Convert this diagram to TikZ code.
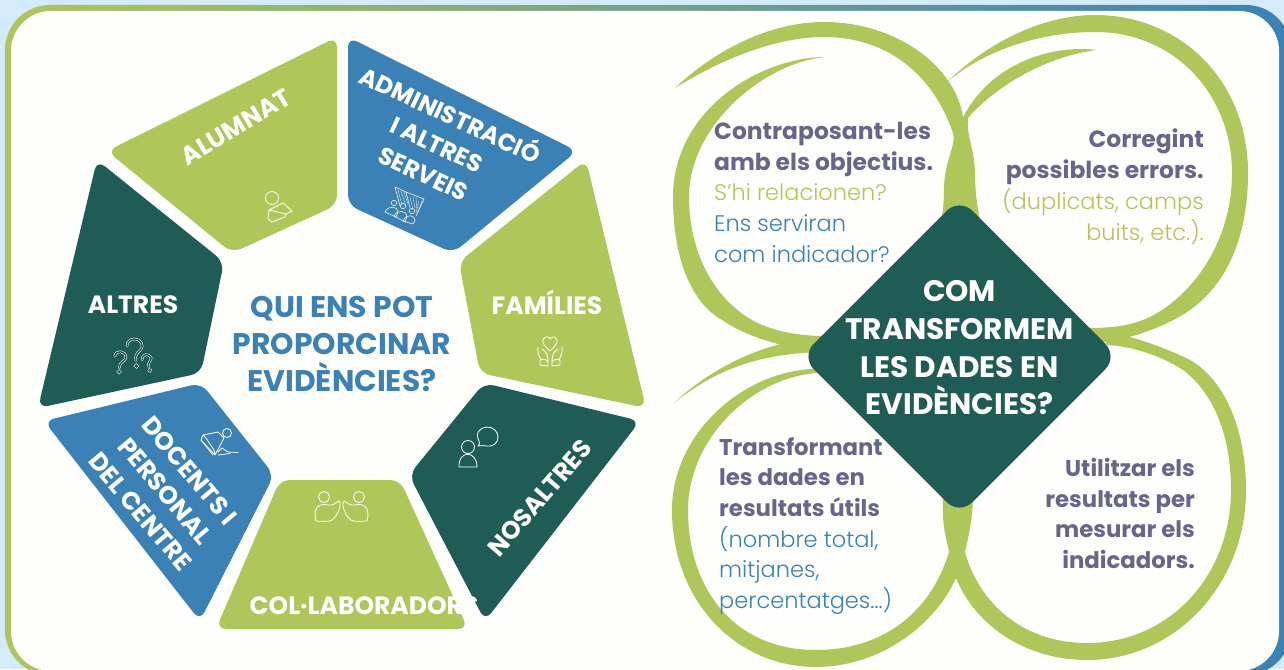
\documentclass[tikz,border=0pt]{standalone}
\usepackage{fontspec}
\setmainfont{Poppins}[BoldFont={Poppins Bold},ItalicFont={Poppins Light}]
\newcommand{\lt}{\itshape}
\newcommand{\bd}{\bfseries\fontsize{23.4}{30.7}\selectfont}
\newcommand{\bdb}{\bfseries\fontsize{22.8}{30.7}\selectfont}
\definecolor{lime}{HTML}{AEC65A}
\definecolor{deep}{HTML}{205C56}
\definecolor{sky}{HTML}{3B81B5}
\definecolor{plum}{HTML}{66658C}
\definecolor{paper}{HTML}{FEFEFC}
\definecolor{pale}{HTML}{D4EBFC}
\tikzset{
  x=1pt,y=-1pt,
  seg/.style={rounded corners=10pt},
  lbl/.style={text=white,font=\bfseries\fontsize{25}{32}\selectfont,align=center,inner sep=0pt},
  hd/.style={align=center,inner sep=0pt},
  txt/.style={inner sep=0pt,font=\fontsize{22.5}{30.7}\selectfont},
  ico/.style={draw=white,line width=.8pt,line join=round,line cap=round},
  qm/.style={draw=white,line width=.5pt,double=deep,double distance=1.5pt,line cap=round},
}
\newcommand{\qmark}{%
  \draw[qm] (-5,-6) .. controls (-5,-13) and (7,-13) .. (7,-5) .. controls (7,-1) and (0,-1) .. (1,6);
  \draw[qm] (1,10.5) circle (.9);}
\begin{document}
\begin{tikzpicture}
\useasboundingbox (0,0) rectangle (1284,669);
\clip (0,0) rectangle (1284,669);
\fill[pale] (0,0) rectangle (1284,669);
\shade[left color=lime,right color=sky,rounded corners=45pt] (5,5) rectangle (1291,675);
\fill[paper,rounded corners=40pt] (11,11) rectangle (1279,671);
% wheel segments
\fill[lime,seg] (337,37) -- (337,205) -- (232,253) -- (107,151) -- cycle;
\fill[sky,seg] (348,37) -- (577,151) -- (453,253) -- (348,205) -- cycle;
\fill[lime,seg] (586,160) -- (646,408) -- (480,373) -- (459,262) -- cycle;
\fill[deep,seg] (97,160) -- (224,262) -- (201,373) -- (38,408) -- cycle;
\fill[sky,seg] (201,383) -- (274,475) -- (200,621) -- (44,421) -- cycle;
\fill[lime,seg] (280,480) -- (400,480) -- (468,629) -- (216,629) -- cycle;
\fill[deep,seg] (484,383) -- (640,421) -- (485,621) -- (409,475) -- cycle;
% loops
\fill[lime] (826,57) .. controls (760,57) and (673,110) .. (673,197)
  .. controls (673,265) and (695,305) .. (722,320)
  .. controls (745,336) and (790,352) .. (840,352)
  .. controls (920,352) and (968,280) .. (968,190)
  .. controls (968,160) and (968,135) .. (963,117)
  .. controls (955,65) and (895,22) .. (824,22)
  .. controls (770,22) and (715,50) .. (675,88)
  .. controls (720,60) and (775,37) .. (824,37)
  .. controls (885,37) and (932,72) .. (953,133)
  .. controls (957,145) and (944,160) .. (944,190)
  .. controls (944,270) and (890,336) .. (825,336)
  .. controls (795,336) and (770,330) .. (752,320)
  .. controls (712,297) and (689,250) .. (689,197)
  .. controls (689,125) and (765,62) .. (826,57) -- cycle;
\fill[lime] (1097,50) .. controls (1030,42) and (950,85) .. (950,175)
  .. controls (950,280) and (1010,342) .. (1100,342)
  .. controls (1120,342) and (1165,328) .. (1190,310)
  .. controls (1225,285) and (1248,240) .. (1248,173)
  .. controls (1248,80) and (1180,15) .. (1095,15)
  .. controls (1040,15) and (985,45) .. (947,82)
  .. controls (985,50) and (1040,32) .. (1095,32)
  .. controls (1175,32) and (1232,95) .. (1232,173)
  .. controls (1232,235) and (1200,285) .. (1162,310)
  .. controls (1140,325) and (1115,328) .. (1090,328)
  .. controls (1030,328) and (975,260) .. (975,175)
  .. controls (975,150) and (966,135) .. (968,118)
  .. controls (990,92) and (1040,57) .. (1097,50) -- cycle;
\fill[lime] (825,369) .. controls (750,365) and (672,430) .. (672,510)
  .. controls (672,600) and (735,667) .. (816,667)
  .. controls (880,667) and (935,625) .. (956,578)
  .. controls (962,555) and (973,530) .. (973,490)
  -- (960,400) -- (830,338)
  .. controls (790,336) and (725,355) .. (674,403)
  .. controls (715,370) and (760,352) .. (830,352)
  -- (900,400) -- (945,470)
  .. controls (942,490) and (943,510) .. (943,513)
  .. controls (943,530) and (948,545) .. (949,552)
  .. controls (930,615) and (880,650) .. (816,650)
  .. controls (735,650) and (688,590) .. (688,510)
  .. controls (688,440) and (750,378) .. (817,373) -- cycle;
\fill[lime] (1100,332) .. controls (1120,332) and (1160,345) .. (1190,360)
  .. controls (1225,380) and (1246,430) .. (1246,490)
  .. controls (1246,585) and (1175,660) .. (1087,660)
  .. controls (1025,660) and (975,625) .. (956,578)
  .. controls (950,560) and (945,530) .. (945,490)
  -- (960,400) -- (1000,400) -- (973,490)
  .. controls (973,515) and (970,530) .. (965,552)
  .. controls (978,600) and (1020,643) .. (1087,643)
  .. controls (1170,643) and (1231,575) .. (1231,490)
  .. controls (1231,430) and (1210,390) .. (1183,370)
  .. controls (1160,355) and (1130,346) .. (1107,345) -- cycle;
% diamond
\fill[deep,rounded corners=18pt] (959.5,198) -- (1118,356.5) -- (959.5,515) -- (801,356.5) -- cycle;
% icons
\draw[ico] (272,198) circle (6.5);
\draw[ico] (269,210) -- (283,203) -- (292,211) -- (286,214) -- (285,217) -- (272,222) -- (268,219) -- cycle (269,210) -- (286,214);
% admin icon
\begin{scope}[ico,line width=.55pt]
\draw (395,187) -- (400,206) (395,187) -- (406,192) -- (410,208) (406,192) -- (424,199) -- (416,216);
\draw[densely dotted] (398,190) -- (402,205) (401,191) -- (406,206) (404,192) -- (408,204) (410,197) -- (413,210) (413,197) -- (415,208) (416,198) -- (417,210) (419,201) -- (416,213) (422,201) -- (418,212);
\draw (394,203) circle (2.7) (403,206) circle (2.7) (412,211) circle (2.7);
\draw (385,212) .. controls (388,205) and (398,206) .. (398,212) -- (396,217) -- cycle;
\draw (394,216) .. controls (397,209) and (407,211) .. (407,216) -- (405,222) -- cycle;
\draw (403,221) .. controls (406,213) and (416,215) .. (415,221) -- (413,224) -- cycle;
\end{scope}
% question marks
\begin{scope}[shift={(119,362)},scale=.93,rotate=-5]\qmark\end{scope}
\begin{scope}[shift={(134,353)},scale=1.25,rotate=5]\qmark\end{scope}
\begin{scope}[shift={(147,363)},scale=.75,rotate=15]\qmark\end{scope}
% teacher icon
\draw[ico] (227,433) circle (4.5);
\draw[ico] (203,435) -- (218,432) -- (224,438) -- (215,455) -- (214,450) -- (206,438) -- cycle (201,440) -- (215,455) (218,452) -- (222,448) -- (228,452) -- (238,452.5) (218,455) -- (230,453.5);
\draw[ico] (201,440) -- (213,455) (203,435) -- (201,440);
% collaboration icon
\draw[ico] (324,497) circle (5.5) (359,497) circle (5.5);
\draw[ico] (316,521) .. controls (312,506) and (321,503) .. (328,505) .. controls (333,506) and (335,503) .. (339,501) .. controls (342,504) and (338,515) .. (334,518) .. controls (332,521) and (330,522) .. (316,521) -- cycle;
\draw[ico] (367,521) .. controls (371,506) and (362,503) .. (355,505) .. controls (350,506) and (348,503) .. (344,501) .. controls (341,504) and (345,515) .. (349,518) .. controls (351,521) and (353,522) .. (367,521) -- cycle;
% speech icon
\draw[ico] (468,447) circle (6.5);
\draw[ico] (459,467) .. controls (458,450) and (477,450) .. (477,467) -- cycle;
\draw[ico] (478,446) .. controls (480,444) and (480,443) .. (479,441) .. controls (474,432) and (482,427) .. (487,427) .. controls (494,427) and (498,432) .. (498,437) .. controls (498,443) and (493,447) .. (487,446) .. controls (484,445) and (481,446) .. (478,446) -- cycle;
% hands and heart
\draw[ico] (550,351) .. controls (546,347) and (542,344) .. (543,340) .. controls (544,336) and (549,336) .. (550,339) .. controls (551,336) and (556,336) .. (557,340) .. controls (558,344) and (554,347) .. (550,351) -- cycle;
\draw[ico] (538,347) .. controls (537,351) and (539,356) .. (541,360) .. controls (543,358) and (547,360) .. (548,362) .. controls (548,356) and (547,352) .. (542,349) (540,360) -- (540,365) -- (548,366) -- (548,362);
\draw[ico] (562,347) .. controls (563,351) and (561,356) .. (559,360) .. controls (557,358) and (553,360) .. (552,362) .. controls (552,356) and (553,352) .. (558,349) (560,360) -- (560,365) -- (552,366) -- (552,362);
% wheel texts
\node[hd,text=sky,font=\bfseries\fontsize{29.8}{37}\selectfont] (centerq) at (342,344) {QUI ENS POT\\PROPORCINAR\\EVIDÈNCIES?};
\node[lbl,rotate=31] (alumnat) at (236,127) {ALUMNAT};
\node[lbl,rotate=-25,font=\bfseries\fontsize{24}{32}\selectfont] (admin) at (438,142) {ADMINISTRACIÓ\\I ALTRES\\SERVEIS};
\node[lbl] (fam) at (547,302) {FAMÍLIES};
\node[lbl] (alt) at (133,305) {ALTRES};
\node[lbl,rotate=49] (nos) at (540,498) {NOSALTRES};
\node[lbl,rotate=-50] (doc) at (165,491) {DOCENTS I\\PERSONAL\\DEL CENTRE};
\node[lbl] (col) at (364,606) {COL·LABORADORS};
% right side texts
\node[hd,text=white,font=\bfseries\fontsize{29.6}{37.7}\selectfont] (dia) at (959.5,348) {COM\\TRANSFORMEM\\LES DADES EN\\EVIDÈNCIES?};
\node[txt,anchor=north west,align=left] (t1) at (714,122) {\textcolor{plum}{\bd Contraposant-les}\\\textcolor{plum}{\bd amb els objectius.}\\\textcolor{lime}{\lt S’hi relacionen?}\\\textcolor{sky}{\lt Ens serviran}\\\textcolor{sky}{\lt com indicador?}};
\node[txt,anchor=north east,align=right] (t2) at (1204,129) {\textcolor{plum}{\bd Corregint}\\\textcolor{plum}{\bd possibles errors.}\\\textcolor{lime}{\lt (duplicats, camps}\\\textcolor{lime}{\lt buits, etc.).}};
\node[txt,anchor=north west,align=left] (t3) at (719,437) {\textcolor{plum}{\bdb Transformant}\\\textcolor{plum}{\bdb les dades en}\\\textcolor{plum}{\bdb resultats útils}\\\textcolor{sky}{\lt (nombre total,}\\\textcolor{sky}{\lt mitjanes,}\\\textcolor{sky}{\lt percentatges...)}};
\node[txt,anchor=north east,align=right] (t4) at (1195,458) {\textcolor{plum}{\bdb Utilitzar els}\\\textcolor{plum}{\bdb resultats per}\\\textcolor{plum}{\bdb mesurar els}\\\textcolor{plum}{\bdb indicadors.}};
\end{tikzpicture}
\end{document}
